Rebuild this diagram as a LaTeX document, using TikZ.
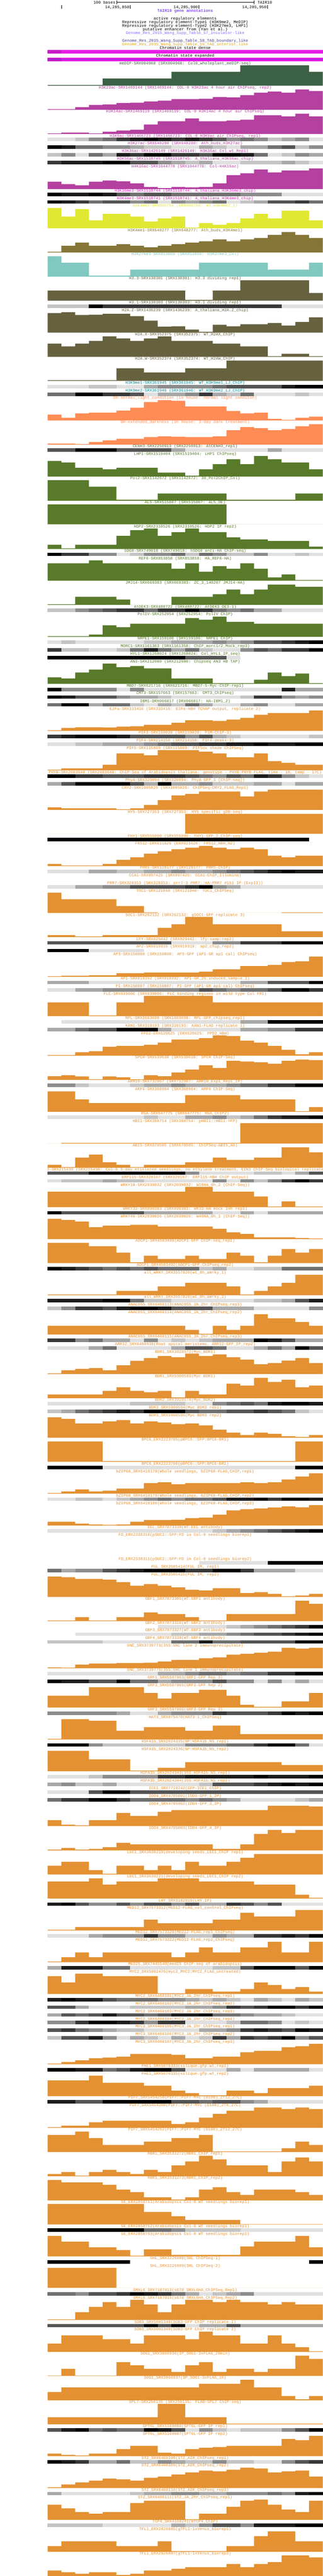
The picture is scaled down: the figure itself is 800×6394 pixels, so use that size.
\documentclass[tikz,border=0pt]{standalone}
\usepackage{fontspec}
\newfontfamily\ucsc{Liberation Mono}
\definecolor{k0}{RGB}{0,0,0}
\definecolor{k1}{RGB}{28,28,28}
\definecolor{k2}{RGB}{56,56,56}
\definecolor{k3}{RGB}{84,84,84}
\definecolor{k4}{RGB}{112,112,112}
\definecolor{k5}{RGB}{140,140,140}
\definecolor{k6}{RGB}{168,168,168}
\definecolor{k7}{RGB}{196,196,196}
\definecolor{k8}{RGB}{224,224,224}
\definecolor{kn}{RGB}{255,255,255}
\definecolor{purp}{RGB}{180,64,160}
\definecolor{mgt}{RGB}{225,30,200}
\definecolor{pk}{RGB}{200,45,165}
\definecolor{medg}{RGB}{60,96,68}
\definecolor{yel}{RGB}{224,232,50}
\definecolor{olv}{RGB}{133,117,55}
\definecolor{teal}{RGB}{128,200,192}
\definecolor{dolv}{RGB}{102,97,63}
\definecolor{tblu}{RGB}{0,140,150}
\definecolor{coral}{RGB}{255,140,85}
\definecolor{cgrn}{RGB}{90,105,50}
\definecolor{grn}{RGB}{88,122,42}
\definecolor{org}{RGB}{227,145,50}
\definecolor{chrom}{RGB}{232,28,232}
\definecolor{chromd}{RGB}{200,27,200}
\definecolor{chline}{RGB}{120,40,210}
\definecolor{tair}{RGB}{80,0,240}
\definecolor{ins}{RGB}{128,112,255}
\definecolor{tadb}{RGB}{72,61,139}
\definecolor{tadi}{RGB}{218,165,32}
\newcounter{lb}
\tikzset{lbl/.style={anchor=base,inner sep=0pt,font=\ucsc\fontsize{10}{10}\selectfont}}
\newcommand\trk[3]{\stepcounter{lb}\node[lbl,text=#2] (lab\thelb) at (459,#1+3.2) {#3};}
\newcommand\hst[3]{\fill[#1] (118,#2) \foreach \t [count=\i from 0] in {#3} { -- ({118+34.1*\i},\t) -- ({118+34.1*(\i+1)},\t) } -- (800,#2) -- cycle;}
\newcommand\dns[2]{\foreach \g [count=\i from 0] in {#2} {\fill[k\g] ({118+34.1*\i},#1) rectangle ({118.4+34.1*(\i+1)},#1+8.7);}}
\begin{document}
\begin{tikzpicture}[x=1pt,y=-1pt]
\useasboundingbox (0,0) rectangle (800,6394);
\fill[white] (0,0) rectangle (800,6394);
% header
\node[lbl,anchor=base east] (bases) at (286,9.2) {100 bases};
\draw[line width=1pt] (289,6) -- (629.5,6);
\draw[line width=1pt] (289,1.5) -- (289,10.5) (629.5,1.5) -- (629.5,10.5);
\node[lbl,anchor=base west] (asm) at (638,9.2) {TAIR10};
\draw[line width=1pt] (152.8,13.3) -- (152.8,21.7) (323,13.3) -- (323,21.7) (493,13.3) -- (493,21.7) (663,13.3) -- (663,21.7);
\node[lbl,anchor=base east] (p1) at (320.5,20.9) {14,285,850};
\node[lbl,anchor=base east] (p2) at (490.5,20.9) {14,285,900};
\node[lbl,anchor=base east] (p3) at (660.5,20.9) {14,285,950};
\trk{27}{tair}{TAIR10 gene annotations}
\trk{46}{black}{active regulatory elements}
\trk{54.7}{black}{Repressive regulatory element-Type1 (H3K9me2, MeDIP)}
\trk{63.7}{black}{Repressive regulatory element-Type2 (H3K27me3, LHP1)}
\trk{72.7}{black}{putative enhancer from (Yan et al.)}
\trk{82}{ins}{Genome\_Res\_2015\_Wang\_Supp\_Table\_S7\_insulator-like}
\trk{100.7}{tadb}{Genome\_Res\_2015\_Wang\_Supp\_Table\_S8\_TAD\_boundary\_like}
\trk{110}{tadi}{Genome\_Res\_2015\_Wang\_Supp\_Table\_S9\_TAD\_interior\_like}
\trk{119}{black}{Chromatin state dense}
\fill[chrom] (118,124) rectangle (800,132.7);
\fill[chromd] (118,124) rectangle (152.1,132.7);
\trk{138}{black}{Chromatin state expanded}
\fill[chrom] (118,143) rectangle (800,151.7);
\fill[chromd] (118,143) rectangle (152.1,151.7);
\draw[chline,line width=0.8pt] (118,147.3) -- (800,147.3);
% tracks
\trk{156.7}{medg}{meDIP-SRX004968 (SRX004968: Col0\_wholeplant\_meDIP-seq)}
\hst{medg}{212.7}{211,211,211,211,195,195,195,195,195,178.3,178.3,178.3,178.3,178.3,162,162,162,162,162,178.3}
\trk{217}{purp}{H3K23ac-SRX1469144 (SRX1469144: COL-0 H3K23ac 4 hour air ChIPseq, rep2)}
\hst{purp}{272.7}{271,271,266,260.5,259,255.7,255,252,250,246,246,245,241,242,236,230,227,230,222,226}
\trk{276.7}{purp}{H3K14ac-SRX1469119 (SRX1469119: COL-0 H3K14ac 4 hour air ChIPseq)}
\hst{purp}{332.7}{331,329,329,331,327,324,322,309,301,301,294,301,301,299,297,286,286,289,282,289}
\trk{337}{purp}{H3K9ac-SRX1466723 (SRX1466723: COL-0 H3K9ac air ChIPseq, rep1)}
\dns{342}{8,8,7,5,4,2,1,0,1,2,1,2,3,5,4,5,7,6,5,8}
\trk{356}{purp}{H3K27ac-SRX648280 (SRX648280: Ath\_buds\_H3K27ac)}
\dns{360.7}{0,1,4,4,5,5,6,7,7,8,8,6,7,8,6,6,4,3,7,5}
\trk{375}{purp}{H3K36ac-SRX1426149 (SRX1426149: H3K36ac\_Col\_wt\_Rep1)}
\dns{380}{7,5,8,4,6,1,2,0,0,2,2,3,0,0,1,4,8,7,5,6}
\trk{394}{purp}{H3K56ac-SRX1518745 (SRX1518745: A\_thaliana\_H3K56ac\_chip)}
\dns{399}{2,1,1,1,0,0,3,3,5,6,7,6,8,8,7,7,7,6,7,8}
\trk{413}{purp}{H4K16ac-SRX1044778 (SRX1044778: Col-H4K16ac)}
\hst{purp}{469}{451,457,460,451,448,450,455,464,467,464,465,464,455,435,430,421,428,423,423,418}
\trk{473}{mgt}{H3K36me3-SRX1518744 (SRX1518744: A\_thaliana\_H3K36me3\_chip)}
\dns{478}{0,1,1,0,1,3,4,3,3,4,4,4,4,4,5,5,5,8,8,8}
\trk{492}{pk}{H3K4me3-SRX1518741 (SRX1518741: A\_thaliana\_H3K4me3\_chip)}
\dns{497}{0,1,2,4,3,3,5,4,8,5,6,5,4,8,7,6,3,3,2,4}
\trk{510.7}{yel}{H3K4me2-DRX066756 (DRX066756: WT\_H3K4me2\_1)}
\hst{yel}{566.7}{516,537.7,519,546.7,531,531,537.7,550,542,537.7,564.7,554,558,554,542,531,542,523,523,546.7}
\trk{571}{olv}{H3K4me1-SRX648277 (SRX648277: Ath\_buds\_H3K4me1)}
\hst{olv}{626.7}{625,610,602,610,610,606,610,614,610,606,602,599,594,599,594,591,583,576,583,591}
\trk{631}{teal}{H3K27me3-SRX853860 (SRX853860: H3K27me3\_Col)}
\hst{teal}{686.4}{636,652,652,684.4,684.4,684.4,669.3,669.3,669.3,669.3,669.3,652,652,652,652,652,669.3,669.3,669.3,652}
\trk{690.9}{dolv}{H3.3-SRX130301 (SRX130301: H3.3 dividing rep1)}
\hst{dolv}{746.4}{721.1,721.1,721.1,721.1,721.1,721.1,721.1,721.1,721.1,721.1,744.4,744.4,721.1,721.1,695.8,695.8,695.8,695.8,695.8,727.2}
\trk{750.9}{dolv}{H3.1-SRX130303 (SRX130303: H3.1 dividing rep1)}
\dns{755.8}{7,7,7,0,2,2,2,2,2,2,2,2,2,2,2,2,2,8,8,8}
\trk{769.7}{dolv}{H2A.Z-SRX1436239 (SRX1436239: A\_thaliana\_H2A.Z\_chip)}
\hst{dolv}{825.6}{777,775,781.9,781.1,779,779,784.8,795.8,810.9,810.1,817.9,823.6,806,810.1,804.8,804.8,801.9,808,799,788}
\trk{829.7}{dolv}{H2A.X-SRX352375 (SRX352375: WT\_H2AX\_ChIP)}
\hst{dolv}{885.6}{853,859.9,853,846,835,839.9,846,839.9,835,846,846,846,853,853,859.9,859.9,884,877.9,877.9,884}
\trk{889.7}{dolv}{H2A.W-SRX352374 (SRX352374: WT\_H2AW\_ChIP)}
\hst{dolv}{945.6}{944,944,944,944,944,914.2,914.2,924.8,924.8,924.8,914.2,914.2,914.2,895,895,895,895,895,895,895}
\trk{949.7}{tblu}{H3K9me1-SRX361945 (SRX361945: WT\_H3K9me1\_LJ\_ChIP)}
\dns{955}{8,8,8,7,7,8,8,6,5,5,5,5,4,3,3,3,3,1,0,0}
\trk{968.9}{tblu}{H3K9me2-SRX361946 (SRX361946: WT\_H3K9me2\_LJ\_ChIP)}
\dns{974.2}{4,4,0,0,2,2,3,8,6,6,5,2,6,7,4,8,8,8,7,8}
\trk{987.7}{coral}{DH-normal\_light\_condition (in house: normal light conditon)}
\hst{coral}{1043.6}{1028.9,1037,1026,1024,1024,1019,1012,997.9,993,995,1008.9,1008.9,1008.9,1019.9,1026,1024,1039.9,1041.9,1037,1034}
\trk{1047.7}{coral}{DH-extended\_darkness (in house: 3-day dark treatment)}
\hst{coral}{1103.6}{1101.1,1101.1,1102,1097,1093,1088.9,1088.9,1084.8,1083,1084,1084.8,1084.8,1083,1068,1059.9,1062.7,1068,1064.8,1057.9,1053}
\trk{1107.7}{cgrn}{CENH3-SRX2250913 (SRX2250913: AtCENH3\_rep1)}
\dns{1113}{3,3,0,0,0,3,3,3,3,6,8,8,8,8,8,8,6,8,8,8}
\trk{1126.8}{grn}{LHP1-SRX1519404 (SRX1519404: LHP1 ChIPseq)}
\hst{grn}{1182.8}{1144,1148,1161,1161,1164.8,1161,1161,1161,1173,1173,1180.7,1164.8,1152,1140,1152,1132,1140,1148,1148,1164.8}
\trk{1186.8}{grn}{Pol2-SRX1142672 (SRX1142672: 30\_Pol2ChIP\_Col)}
\hst{grn}{1242.7}{1192,1192,1192,1208,1208,1240.7,1240.7,1240.7,1224.8,1224.8,1224.8,1224.8,1224.8,1240.7,1240.7,1240.7,1240.7,1240.7,1224.8,1224.8}
\trk{1246.8}{grn}{AL5-SRX515067 (SRX515067: AL5\_OE)}
\hst{grn}{1301.4}{1252,1252,1252,1252,1252,1252,1252,1252,1252,1252,1252,1252,1252,1301.4,1301.4,1301.4,1301.4,1301.4,1301.4,1301.4}
\trk{1306.7}{grn}{HDP2-SRX2310526 (SRX2310526: HDP2 IP rep2)}
\hst{grn}{1362.7}{1352,1361,1352,1352,1352,1330,1316.1,1312,1330,1321,1312,1321,1321,1334,1339,1339,1343,1343,1343,1357}
\trk{1366.7}{grn}{SDG8-SRX749018 (SRX749018: hSDG8 anti-HA ChIP-seq)}
\dns{1371.6}{0,2,2,5,5,8,7,5,5,4,7,4,5,7,7,5,8,8,7,8}
\trk{1385.9}{grn}{REF6-SRX853858 (SRX853858: HA\_REF6-HA)}
\hst{grn}{1441.4}{1398.2,1398.2,1398.2,1390.8,1398.2,1398.2,1398.2,1398.2,1398.2,1411.6,1398.2,1419,1405.1,1411.6,1398.2,1411.6,1432.9,1425.9,1439.8,1439.8}
\trk{1445.9}{grn}{JMJ14-SRX669383 (SRX669383: ZC\_3\_140207 JMJ14-HA)}
\hst{grn}{1501.4}{1499.8,1499.8,1481.4,1481.4,1481.4,1488,1501.4,1501.4,1501.4,1481.4,1481.4,1481.4,1474.9,1463.5,1474.9,1463.5,1450.8,1450.8,1456.5,1456.5}
\trk{1505.9}{grn}{AtDEK3-SRX488722 (SRX488722: AtDEK3 OE3-1)}
\dns{1510.8}{7,7,5,4,3,2,2,4,2,2,0,2,4,5,4,6,6,8,8,8}
\trk{1524.7}{grn}{PolIV-SRX252954 (SRX252954: PolIV ChIP)}
\hst{grn}{1580.6}{1579,1579,1579,1574.9,1552,1556.9,1548,1548,1548,1548,1534,1538.2,1530.4,1543.5,1543.5,1548,1548,1548,1548,1548}
\trk{1584.7}{grn}{NRPE1-SRX159106 (SRX159106: NRPE1 ChIP)}
\dns{1590}{8,7,8,8,8,8,8,7,7,6,6,6,5,6,5,3,3,2,1,0}
\trk{1603.9}{grn}{MORC1-SRX1161363 (SRX1161358: ChIP\_morc1/2\_Mock\_rep3)}
\dns{1609.2}{2,7,7,8,8,7,4,1,4,6,4,7,8,8,5,3,4,2,2,0}
\trk{1622.7}{grn}{HYL1-SRX1268024 (SRX1268024: Col\_HYL1\_IP\_seq)}
\dns{1628}{0,0,0,0,0,0,0,0,0,0,3,3,3,8,n,n,n,n,n,n}
\trk{1641.8}{grn}{AN3-SRX212080 (SRX212080: Chipseq AN3 HB TAP)}
\hst{grn}{1697.3}{1681,1683.9,1669.2,1661.8,1647.1,1656.1,1652.9,1659,1659,1683.9,1683.9,1683.9,1695.7,1695.7,1695.7,1687.1,1669.2,1678.2,1672,1695.7}
\trk{1701.8}{grn}{MBD7-SRX621716 (SRX621716: MBD7-5-Myc-ChIP-rep1)}
\dns{1707.1}{0,5,5,5,5,8,5,8,8,8,8,8,8,8,8,8,8,1,6,6}
\trk{1720.6}{grn}{CMT3-SRX157663 (SRX157663: CMT3\_ChIPseq)}
\dns{1725.9}{0,1,3,3,3,5,6,6,7,8,8,8,8,8,7,2,2,5,6,5}
\trk{1739.8}{grn}{IBM1-DRX066817 (DRX066817: HA-IBM1\_2)}
\dns{1745.1}{4,0,0,6,4,4,7,8,6,7,4,6,8,8,6,5,8,8,6,6}
\trk{1759}{org}{E2Fa-SRX333416 (SRX333416: E2Fa-HBH TChAP output, replicate 2)}
\hst{org}{1814.1}{1812.4,1806.7,1805.1,1805.1,1805.9,1803.5,1802.7,1799,1799,1794,1788,1788,1789.6,1785.9,1781.8,1774.1,1770,1770,1770,1763.5}
\trk{1818.6}{org}{PIF3-SRX159028 (SRX159028: P3M-ChIP-3)}
\dns{1823.9}{2,1,0,0,0,1,3,3,3,3,5,3,6,7,8,8,8,8,8,7}
\trk{1837.8}{org}{PIF4-SRX214150 (SRX214150: PIF4-peaks-3)}
\dns{1843}{8,8,7,7,6,6,6,5,4,3,3,2,2,1,1,0,1,1,0,0}
\trk{1856.5}{org}{PIF5-SRX115869 (SRX115869: PIF5ox shade ChIPSeq)}
\hst{org}{1912}{1910.4,1907.1,1907.1,1907.1,1898.2,1870,1870,1874.9,1862.2,1862.2,1862.2,1865.9,1870,1879.8,1879.8,1870,1889.2,1893.3,1898.2,1898.2}
\trk{1916.5}{org}{PHYB-SRX2083648 (SRX2083648: ChIP-Seq of Arabidopsis thaliana: genotype - PHYB:PHYB-FLAG, time - 10, temp - 17C)}
\dns{1921.8}{0,0,2,2,3,3,3,2,2,2,3,4,5,3,4,1,2,5,7,8}
\trk{1935.8}{org}{PhyA-SRX320094 (SRX320094: PhyA-GFP\_1 [ChIP-seq])}
\dns{1941.1}{6,3,0,0,0,0,3,6,0,6,6,5,7,7,7,6,6,8,6,6}
\trk{1955}{org}{CRY2-SRX1005826 (SRX1005826: ChIPSeq-CRY2\_FLAG\_Rep1)}
\hst{org}{2010.5}{2004,2006.4,2006.4,2006.4,2006.4,2008.9,2006.4,1997.9,1986,1974.2,1970.9,1964.8,1964.8,1964.8,1977,1964.8,1959.9,1959.9,1959.9,1959.9}
\trk{2015}{org}{HY5-SRX727353 (SRX727353: HY5 specific gDB-seq)}
\hst{org}{2069.7}{2069.7,2069.7,2069.7,2069.7,2069.7,2069.7,2069.7,2069.7,2069.7,2069.7,2019.9,2019.9,2019.9,2019.9,2019.9,2019.9,2019.9,2019.9,2019.9,2019.9}
\trk{2075}{org}{FHY1-SRX555090 (SRX555090: FHY1-GFP\_2\_ChIP-seq)}
\dns{2079.9}{0,0,0,0,0,0,0,0,0,0,0,0,0,0,0,0,0,0,0,n}
\trk{2093.8}{org}{FRS12-ERX611626 (ERX611626: FRS12\_HBH\_N2)}
\hst{org}{2149.7}{2144.4,2148.5,2148.5,2148.5,2144.4,2134.2,2128,2119,2113,2108,2104,2099.5,2104,2108,2104,2108,2124,2128,2124,2124}
\trk{2153.8}{org}{PRR5-SRX128177 (SRX128177: PRR5-ChIP)}
\dns{2159}{8,8,8,6,6,7,7,6,6,5,6,6,5,4,3,2,1,0,1,1}
\trk{2173}{org}{CCA1-SRX997425 (SRX997425: CCA1-ChIP\_Illumina)}
\trk{2191.7}{org}{PRR7-SRX328353 (SRX328353: prr7-3 PRR7::HA-PRR7 \#151 IP (ExpII))}
\dns{2197}{8,8,6,6,5,5,3,3,3,3,2,0,5,6,8,8,8,8,8,8}
\trk{2210.9}{org}{TOC1-SRX121040 (SRX121040: TOC1\_ChIPSeq)}
\hst{org}{2266}{2215.8,2232.1,2232.1,2232.1,2232.1,2248.9,2248.9,2264.8,2266,2266,2266,2266,2266,2266,2266,2266,2266,2264.8,2264.8,2264.8}
\trk{2270.9}{org}{SOC1-SRX262132 (SRX262132: gSOC1-GFP replicate 3)}
\hst{org}{2326}{2321.1,2321.1,2324.4,2324.4,2321.1,2321.1,2321.1,2321.1,2303.2,2294.2,2275.8,2275.8,2294.2,2294.2,2294.2,2294.2,2294.2,2311.7,2311.7,2311.7}
\trk{2330.9}{org}{LFY-SRX029442 (SRX029442: lfy-samp-rep2)}
\dns{2335.8}{3,3,3,3,3,3,3,3,3,8,8,8,5,5,2,2,2,0,0,0}
\trk{2349.7}{org}{AP2-SRX019319 (SRX019319: ap2\_chip\_rep2)}
\dns{2355}{0,0,0,8,8,8,8,n,n,n,n,n,n,n,n,n,n,n,n,n}
\trk{2368.9}{org}{AP3-SRX150808 (SRX150808: AP3-GFP (AP1-GR ap1 cal) ChIPseq)}
\hst{org}{2424.4}{2423.2,2422,2422,2421,2421,2415.8,2415.8,2413.8,2413.8,2413.8,2413.8,2411.7,2406,2406,2397.9,2397.9,2395,2388,2386,2374.2}
\trk{2428.9}{org}{AP1-SRX018392 (SRX018392: AP1-GR\_2h\_induced\_sample\_1)}
\dns{2434.2}{6,6,6,8,8,8,8,8,8,8,8,8,8,8,6,6,3,3,3,0}
\trk{2447.7}{org}{PI-SRX150807 (SRX150807: PI-GFP (AP1-GR ap1 cal) ChIPseq)}
\dns{2453}{8,8,6,6,5,5,5,5,5,5,5,3,4,5,4,4,3,0,0,2}
\trk{2466.8}{org}{FLC-SRX039006 (SRX039006: FLC binding regions in wild type Col FRI)}
\hst{org}{2522.3}{2488,2488,2488,2520.7,2520.7,2488,2488,2472.1,2472.1,2472.1,2472.1,2472.1,2488,2488,2488,2488,2488,2488,2488,2488}
\trk{2526.8}{org}{RPL-SRX1603698 (SRX1603698: RPL-GFP\_chipseq\_rep1)}
\dns{2531.7}{n,8,8,8,8,8,8,8,8,8,8,8,8,8,6,6,0,0,0,0}
\trk{2545.6}{org}{KAN1-SRX310193 (SRX310193: KAN1-FLAG replicate 1)}
\dns{2551}{6,6,4,3,3,0,0,0,6,8,8,8,8,8,6,6,5,5,2,2}
\trk{2564.6}{org}{PPD2-ERX620625 (ERX620625: PPD2\_HBH)}
\hst{org}{2620.5}{2618.9,2618.9,2611.9,2609.1,2598.1,2596,2596,2593.2,2587.9,2580.1,2580.1,2576.8,2569.9,2571.9,2583,2587.9,2596,2605.8,2616.8,2611.9}
\trk{2624.6}{org}{SPCH-SRX539638 (SRX539638: SPCH ChIP-Seq)}
\hst{org}{2680.5}{2671.1,2669.1,2671.9,2678.9,2671.9,2674,2678.9,2669.1,2671.1,2662.1,2654.8,2644.2,2651.1,2633.2,2634.8,2636.8,2640.1,2633.2,2629.9,2631.1}
\trk{2684.6}{org}{ARR10-SRX732967 (SRX732967: ARR10\_Exp1\_Rep1\_IP)}
\dns{2689.9}{5,5,7,8,8,8,7,6,6,5,6,6,6,5,4,4,2,2,0,0}
\trk{2703.8}{org}{ARF6-SRX368984 (SRX368984: ARF6 ChIP-Seq)}
\hst{org}{2759.7}{2709.1,2709.1,2729.1,2738.1,2738.1,2738.1,2738.1,2738.1,2738.1,2738.1,2718.1,2718.1,2718.1,2718.1,2729.1,2729.1,2729.1,2729.1,2758.1,2747.9}
\trk{2763.8}{org}{RGA-SRX647775 (SRX647775: RGA\_ChIP2)}
\dns{2769.1}{8,8,8,8,8,8,8,7,8,8,6,6,5,7,6,4,2,1,1,0}
\trk{2783}{org}{HBI1-SRX388754 (SRX388754: pHBI1::HBI1-YFP)}
\hst{org}{2838.5}{2838.5,2836.8,2836.8,2836.8,2836.8,2836.8,2836.8,2836.8,2836.8,2836.8,2836.8,2836.8,2836.8,2836.8,2787.9,2787.9,2787.9,2787.9,2787.9,2787.9}
\trk{2843}{org}{ABI5-SRX670505 (SRX670505: ChIPSeq-ABI5\_Ab)}
\hst{org}{2898.5}{2891.1,2896.8,2873.2,2865.8,2885,2891.1,2896.8,2891.1,2891.1,2891.1,2885,2885,2873.2,2878.9,2878.9,2873.2,2873.2,2847.9,2847.9,2860.1}
\begin{scope}
\clip (118,2894) rectangle (800,2906);
\trk{2902.6}{org}{EIN3-SRX215430 (SRX215430: Col-0 3-day etiolated seedlings, no ethylene treatment, EIN3 ChIP-Seq biological replicate 1)}
\end{scope}
\dns{2907.4}{3,3,3,0,0,0,0,0,0,0,5,8,8,8,8,7,7,8,6,3}
\trk{2921.7}{org}{ERF115-SRX320167 (SRX320167: ERF115-HBH ChIP output)}
\dns{2926.6}{8,7,7,7,6,7,7,8,8,8,8,8,5,8,5,7,5,2,0,2}
\trk{2940.9}{org}{WRKY18-SRX2039032 (SRX2039032: W18HA\_0h\_2 (ChIP-Seq))}
\hst{org}{2996.4}{2958,2958,2958,2958,2958,2958,2958,2958,2958,2958,2945.8,2945.8,2958,2958,2958,2969.9,2994.8,2982.1,2994.8,2994.8}
\trk{3000.5}{org}{WRKY33-SRX890383 (SRX890383: WK33-HA mock 14h rep1)}
\dns{3005.8}{0,3,3,3,3,3,3,6,6,6,6,6,8,8,6,8,6,6,6,6}
\trk{3019.7}{org}{WRKY40-SRX2039026 (SRX2039026: W40HA\_0h\_1 (ChIP-Seq))}
\hst{org}{3075.6}{3025,3027.9,3032,3045.8,3042.1,3042.1,3040.1,3040.1,3044.2,3044.2,3044.2,3044.2,3049.9,3058.9,3063,3071.1,3071.1,3071.1,3073.2,3074}
\trk{3079.7}{org}{ADCP1-SRX4503490(ADCP1-GFP ChIP-seq\_rep1)}
\hst{org}{3135.2}{3085,3085,3085,3093.2,3093.2,3109.1,3133.2,3116.8,3125,3125,3116.8,3125,3125,3109.1,3116.8,3133.2,3116.8,3100.1,3109.1,3100.1}
\trk{3139.7}{org}{ADCP1\_SRX4503492(ADCP1-GFP\_ChIPseq\_rep2)}
\dns{3145}{0,1,2,3,4,3,4,3,4,4,4,7,6,8,8,7,7,4,4,4}
\trk{3158.9}{org}{all\_WRKY\_SRX3557820(wt\_0h\_aWrky\_1)}
\hst{org}{3214.6}{3213,3213,3213,3213,3213,3204,3204,3204,3193,3193,3184,3184,3184,3193,3213,3204,3193,3184,3164.2,3164.2}
\trk{3218.7}{org}{all\_WRKY\_SRX3557828(wt\_0h\_aWrky\_2)}
\dns{3224}{1,1,1,1,0,0,4,7,7,8,8,8,8,8,8,7,7,6,3,1}
\trk{3237.9}{org}{ANAC055\_SRX6460113(ANAC055\_JA\_2hr\_ChIPseq\_rep1)}
\dns{3243.2}{7,5,2,2,3,1,0,0,1,3,3,3,6,6,6,8,8,8,8,5}
\trk{3256.6}{org}{ANAC055\_SRX6460114(ANAC055\_JA\_2hr\_ChIPseq\_rep2)}
\hst{org}{3312.6}{3290.9,3290.9,3290.9,3290.9,3290.9,3290.9,3290.9,3290.9,3290.9,3290.9,3301.1,3310.5,3290.9,3301.1,3290.9,3261.9,3272.1,3272.1,3281.1,3290.9}
\trk{3316.6}{org}{ANAC055\_SRX6460115(ANAC055\_JA\_2hr\_ChIPseq\_rep3)}
\dns{3322}{2,2,5,4,6,6,8,5,8,7,8,7,6,6,6,0,1,3,6,6}
\trk{3335.8}{org}{ARR12\_SRX6490939(Root apical meristems, ARR12-GFP\_IP\_rep2)}
\dns{3341.1}{8,8,8,6,4,8,8,8,8,6,3,3,4,8,8,6,4,6,0,3}
\trk{3355}{org}{BDR1\_SRX3928572(Myc\_BDR1)}
\hst{org}{3410.5}{3408.9,3401.1,3397.9,3395.8,3401.1,3388.9,3377.9,3370.9,3366,3368.9,3359.9,3366,3361.9,3368.9,3375,3386,3383.2,3377,3370.9,3383.2}
\trk{3415}{org}{BDR1\_SRX5900593(Myc BDR1)}
\hst{org}{3470.5}{3461.1,3461.1,3461.1,3461.1,3452.1,3443.2,3452.1,3455.8,3452.1,3468.5,3452.1,3461.1,3461.1,3434.2,3439.1,3419.9,3430.1,3424.8,3443.2,3439.1}
\trk{3474.6}{org}{BDR2\_SRX3928574(Myc\_BDR2)}
\dns{3479.9}{8,8,8,8,8,8,7,7,7,7,8,8,5,4,3,4,1,0,0,1}
\trk{3493.8}{org}{BDR3\_SRX5900594(Myc BDR3 rep1)}
\dns{3499.1}{7,6,4,3,2,1,2,0,0,0,3,4,4,3,3,2,3,4,7,8}
\trk{3513}{org}{BDR3\_SRX5900595(Myc BDR3 rep2)}
\hst{org}{3568.5}{3517.9,3521.9,3533,3533,3528.1,3524.8,3533,3528.1,3530.9,3535,3533,3537.9,3548.9,3555.8,3561.9,3555.8,3559.1,3564.8,3566.8,3561.9}
\trk{3572.6}{org}{BPC6\_ERX2223705(pBPC6::GFP:BPC6-BR1)}
\hst{org}{3628.5}{3577.9,3577.9,3577.9,3577.9,3626.4,3626.4,3626.4,3626.4,3626.4,3626.4,3626.4,3626.4,3626.4,3626.4,3626.4,3626.4,3626.4,3626.4,3577.9,3577.9}
\trk{3632.6}{org}{BPC6\_ERX2223706(pBPC6::GFP:BPC6-BR1)}
\dns{3637.9}{0,0,0,0,8,8,8,8,8,8,8,8,8,8,8,8,8,8,0,0}
\trk{3651.7}{org}{bZIP68\_SRX6410178(Whole seedlings, bZIP68-FLAG,CHIP,rep1)}
\hst{org}{3707.2}{3705.6,3702,3697,3702,3699.9,3695,3695,3681.1,3679.1,3684,3681.1,3681.1,3681.1,3681.1,3679.1,3681.1,3679.1,3672.1,3664.8,3657}
\trk{3711.7}{org}{bZIP68\_SRX6410179(Whole seedlings, bZIP68-FLAG,CHIP,rep2)}
\dns{3717}{8,8,7,7,8,7,6,5,4,5,4,4,3,1,1,0,2,0,0,1}
\trk{3730.9}{org}{bZIP68\_SRX6410180(Whole seedlings, bZIP68-FLAG,CHIP,rep3)}
\hst{org}{3786.4}{3777,3777,3781.9,3784,3784.8,3784,3777,3773,3773,3772.1,3768.1,3766.8,3759.9,3748.9,3746,3744,3741.9,3739.1,3741.1,3735.8}
\trk{3790.9}{org}{EEL\_SRX7873339(WT:EEL antibody)}
\dns{3795.8}{8,8,8,8,8,8,8,8,8,8,8,8,7,6,5,4,3,2,1,0}
\trk{3809.8}{org}{FD\_ERX2338310(pSUC2::GFP:FD in Col-0 seedlings biorep1)}
\trk{3869.9}{org}{FD\_ERX2338311(pSUC2::GFP:FD in Col-0 seedlings biorep2)}
\dns{3874.8}{n,n,n,n,n,n,n,n,n,n,n,8,8,8,8,8,0,0,0,0}
\trk{3888.7}{org}{FUL\_SRX3505414(FUL IM, rep1)}
\dns{3894}{4,6,5,5,3,2,1,0,0,0,2,2,0,0,2,6,6,6,8,8}
\trk{3907.9}{org}{FUL\_SRX3505415(FUL IM, rep2)}
\hst{org}{3963.8}{3913.2,3914.8,3918.9,3918.9,3920.9,3927,3936,3931.9,3936,3940.1,3945.8,3947.9,3942.1,3942.1,3954,3951.9,3956,3962.1,3960.1,3956}
\trk{3967.9}{org}{GBF1\_SRX7873305(WT:GBF1 antibody)}
\hst{org}{4023.8}{4022.1,4022.1,4014,4022.1,4022.1,4014,4014,4002.1,4006.2,4006.2,4014,4022.1,4022.1,4006.2,4006.2,4006.2,4006.2,4006.2,3973.2,3980.9}
\trk{4027.9}{org}{GBF2\_SRX7873316(WT:GBF2 antibody)}
\dns{4033.2}{n,n,n,n,n,n,n,n,8,8,8,8,8,7,6,5,4,3,2,0}
\trk{4046.6}{org}{GBF3\_SRX7873327(WT:GBF3 antibody)}
\dns{4052}{n,n,8,8,8,8,8,8,8,7,7,6,6,5,4,3,3,2,1,0}
\trk{4065.8}{org}{GBF4\_SRX7873338(WT:GBF4 antibody)}
\dns{4071.1}{7,7,7,7,8,8,8,8,8,4,4,1,4,4,3,3,3,3,0,0}
\trk{4085}{org}{GNC\_SRX3739773(35S:GNC line 2 immunoprecipitate)}
\hst{org}{4140.5}{4138.5,4139.3,4132,4129.1,4129.1,4127.9,4127.9,4127,4124.2,4120.1,4120.1,4116,4114,4107,4105,4102.1,4100.1,4089.9,4091.9,4089.9}
\trk{4144.6}{org}{GNC\_SRX3739775(35S:GNC line 1 immunoprecipitate)}
\dns{4149.9}{8,8,8,8,8,8,8,8,6,6,5,4,4,5,4,4,2,2,0,0}
\trk{4163.8}{org}{GRF1\_SRX5507863(GRF1-GFP Rep 3)}
\dns{4169.1}{0,1,1,3,3,0,4,4,6,5,5,5,3,5,5,8,5,8,6,8}
\trk{4183}{org}{GRF3\_SRX5507865(GRF3-GFP Rep 2)}
\hst{org}{4238.5}{4209.1,4209.1,4209.1,4187.9,4187.9,4187.9,4187.9,4202.1,4216,4202.1,4202.1,4194.4,4194.4,4209.1,4231.5,4236.4,4236.4,4223,4223,4202.1}
\trk{4242.6}{org}{GRF3\_SRX5507866(GRF3-GFP Rep 3)}
\dns{4247.9}{5,5,5,5,5,6,8,8,6,5,5,5,2,3,3,3,2,0,1,0}
\trk{4261.7}{org}{HAT3\_SRX875470(HAT3-1\_ChIPSeq)}
\hst{org}{4317.7}{4316,4267,4267,4271.1,4271.1,4296,4296,4287,4287,4287,4296,4296,4283,4283,4304.2,4304.2,4304.2,4304.2,4304.2,4304.2}
\trk{4321.7}{org}{HSFA1b\_SRX2024335(NP:HSFA1b\_NS\_rep1)}
\dns{4327}{0,0,0,5,7,7,7,7,7,7,5,5,5,4,4,2,0,0,4,8}
\trk{4340.9}{org}{HSFA1b\_SRX2024336(NP:HSFA1b\_NS\_rep2)}
\hst{org}{4396.4}{4345.8,4345.8,4345.8,4367,4367,4367,4394.8,4394.8,4387.9,4387.9,4374,4374,4374,4374,4374,4374,4374,4380.9,4380.9,4380.9}
\trk{4400.9}{org}{HSFA1b\_SRX2024343(35S:HSFA1b\_NS\_rep1)}
\dns{4405.8}{8,8,8,7,5,5,5,5,2,2,1,1,1,1,1,0,1,1,1,0}
\trk{4419.7}{org}{HSFA1b\_SRX2024344(35S:HSFA1b\_NS\_rep2)}
\dns{4425}{6,5,7,7,6,8,8,8,8,8,8,7,3,3,3,2,1,0,1,0}
\trk{4438.9}{org}{ICE1\_SRX7719242(GFP-ICE1\_ChIP)}
\dns{4443.9}{8,8,8,3,0,0,3,3,3,3,3,3,3,3,3,3,3,3,3,3}
\trk{4458}{org}{IDD4\_SRX4705001(IDD4-GFP\_1\_IP)}
\dns{4463}{4,2,2,0,0,2,4,4,4,4,5,4,5,6,8,8,8,8,7,6}
\trk{4476.7}{org}{IDD4\_SRX4705002(IDD4-GFP\_3\_IP)}
\hst{org}{4532.5}{4517.9,4529.1,4530.8,4517.9,4517.9,4500,4507.1,4507.1,4497.1,4493,4493,4493,4493,4493,4493,4493,4482.2,4482.2,4482.2,4483.8}
\trk{4536.6}{org}{IDD4\_SRX4705003(IDD4-GFP\_4\_IP)}
\hst{org}{4592.8}{4591.1,4586.9,4591.1,4589,4584.9,4574,4577.8,4577.8,4577.8,4577.8,4577.8,4577.8,4589,4589,4577.8,4552,4542,4549.9,4542,4542}
\trk{4596.9}{org}{LEC1\_SRX3638219(developing seeds\_LEC1\_ChIP rep1)}
\hst{org}{4652.6}{4631,4621,4621,4641.8,4651,4631,4631,4641.8,4631,4641.8,4621,4631,4631,4621,4611,4601.9,4601.9,4601.9,4601.9,4601.9}
\trk{4656.8}{org}{LEC1\_SRX3638221(developing seeds\_LEC1\_ChIP rep2)}
\hst{org}{4712.5}{4670.1,4670.1,4670.1,4662.2,4678,4670.1,4670.1,4670.1,4662.2,4662.2,4662.2,4670.1,4670.1,4670.1,4670.1,4678,4678,4678,4703,4710.4}
\trk{4717.1}{org}{LHY\_SRX3182010(LHY\_IP)}
\dns{4722}{1,0,3,5,5,3,5,3,3,5,3,6,6,2,3,5,3,8,8,8}
\trk{4735.8}{org}{MED12\_SRX7573312(MED12-FLAG\_col\_control\_ChIPseq)}
\hst{org}{4791.5}{4789.9,4789.9,4783.2,4783.2,4783.2,4783.2,4783.2,4764.9,4774,4774,4774,4774,4764.9,4764.9,4747.8,4757,4757,4757,4740.8,4740.8}
\trk{4795.7}{org}{MED12\_SRX7573320(MED12-FLAG\_rep1\_ChIPseq)}
\dns{4801.1}{8,8,8,6,5,5,5,2,5,5,7,7,5,6,6,2,2,1,2,0}
\trk{4814.8}{org}{MED12\_SRX7573322(MED12-FLAG\_rep2\_ChIPseq)}
\hst{org}{4870.5}{4868.8,4858,4846,4858,4846,4846,4846,4846,4846,4858,4846,4833.5,4846,4846,4833.5,4833.5,4819.8,4846,4846,4819.8}
\trk{4874.7}{org}{MED25\_SRX7445540(med25 ChIP-seq of arabidopsis)}
\dns{4880}{6,1,1,1,4,4,8,8,8,8,8,8,7,7,3,0,0,0,3,0}
\trk{4893.8}{org}{MYC2\_SRX5982476(myc2\_MYC2:MYC2\_FLAG\_untreated)}
\hst{org}{4949.5}{4905,4920.8,4898.8,4898.8,4905,4905,4905,4905,4947.9,4947.9,4937,4937,4943.3,4943.3,4937,4920.8,4927.1,4937,4932,4943.3}
\trk{4954.1}{org}{MYC2\_SRX6460101(MYC2\_JA\_2hr\_ChIPseq\_rep1)}
\dns{4959.1}{1,0,1,1,3,4,4,4,5,5,6,7,6,7,8,6,7,8,6,7}
\trk{4972.8}{org}{MYC2\_SRX6460102(MYC2\_JA\_2hr\_ChIPseq\_rep2)}
\dns{4977.8}{3,3,6,8,8,8,7,7,7,7,6,6,5,2,3,2,0,0,2,0}
\trk{4992}{org}{MYC2\_SRX6460103(MYC2\_JA\_2hr\_ChIPseq\_rep3)}
\dns{4996.9}{6,3,4,3,1,3,3,4,3,1,1,0,4,4,5,6,6,7,8,8}
\trk{5011}{org}{MYC2\_SRX6460104(MYC2\_JA\_2hr\_ChIPseq\_rep4)}
\dns{5016}{5,5,2,0,0,1,2,5,2,2,8,8,8,7,4,4,5,8,7,8}
\trk{5029.8}{org}{MYC3\_SRX6460105(MYC3\_JA\_2hr\_ChIPseq\_rep1)}
\dns{5035.2}{3,2,4,5,6,7,7,8,8,8,8,6,6,5,2,1,2,3,0,1}
\trk{5048.9}{org}{MYC3\_SRX6460106(MYC3\_JA\_2hr\_ChIPseq\_rep2)}
\dns{5054.3}{7,3,3,1,5,8,6,7,8,6,8,7,2,6,2,3,2,0,5,3}
\trk{5068}{org}{MYC3\_SRX6460107(MYC3\_JA\_2hr\_ChIPseq\_rep3)}
\hst{org}{5123.5}{5121.9,5118.1,5114,5108.9,5106.9,5105.2,5098.1,5098.1,5098.1,5100.2,5108.9,5108.9,5105.2,5105.2,5093.9,5090.2,5090.2,5081.3,5078.8,5073}
\trk{5127.7}{org}{PHE1\_SRX5676333(silique.gfp.wt\_rep1)}
\dns{5133.1}{0,0,1,1,4,3,1,0,0,3,8,8,8,6,8,6,6,6,6,8}
\trk{5146.9}{org}{PHE1\_SRX5676335(silique.gfp.wt\_rep2)}
\hst{org}{5202.8}{5164,5164,5164,5151.9,5169.8,5169.8,5169.8,5176.9,5176.9,5189,5195.3,5201.1,5201.1,5189,5189,5195.3,5183.2,5183.2,5183.2,5176.9}
\trk{5206.5}{org}{PIF7\_SRX5454258(PIF7::PIF7-MYC (D108)\_ZT12\_27C)}
\dns{5212}{1,1,3,3,0,0,0,0,0,3,3,4,3,3,5,6,8,8,8,8}
\trk{5225.7}{org}{PIF7\_SRX5454260(PIF7::PIF7-MYC (D108)\_ZT8\_27C)}
\hst{org}{5281.6}{5280,5276.2,5276.2,5267.8,5264.1,5264.1,5264.1,5264.1,5264.1,5272,5267.8,5256.2,5247,5239.1,5239.1,5231.1,5231.1,5234.9,5231.1,5234.9}
\trk{5285.8}{org}{PIF7\_SRX5454262(PIF7::PIF7-MYC (D108)\_ZT12\_27C)}
\hst{org}{5341.7}{5299.1,5299.1,5290.8,5307.1,5324.2,5324.2,5324.2,5315.8,5315.8,5307.1,5307.1,5299.1,5340,5340,5340,5340,5340,5332.1,5315.8,5324.2}
\trk{5345.8}{org}{RBR1\_SRX3531272(RBR1\_ChIP\_rep1)}
\hst{org}{5401.7}{5395.9,5391.3,5400.1,5391.3,5385.9,5391.3,5395.9,5385.9,5391.3,5375,5365,5350.8,5360,5375,5375,5375,5391.3,5365,5355,5365}
\trk{5405.9}{org}{RBR1\_SRX3531273(RBR1\_ChIP\_rep2)}
\hst{org}{5461.4}{5410.9,5417.2,5417.2,5417.2,5423,5435.1,5441,5453.9,5453.9,5459.7,5453.9,5435.1,5428.8,5441,5448,5435.1,5435.1,5435.1,5441,5448}
\trk{5465.5}{org}{SE\_ERX2858751(Arabidopsis Col-0 WT seedlings biorep1)}
\hst{org}{5521.4}{5470.6,5470.6,5470.6,5470.6,5470.6,5470.6,5470.6,5490.2,5490.2,5501,5510.2,5510.2,5510.2,5510.2,5520.2,5520.2,5520.2,5520.2,5520.2,5520.2}
\trk{5525.6}{org}{SE\_ERX2858752(Arabidopsis Col-0 WT seedlings biorep1)}
\dns{5531}{0,0,0,0,0,0,0,4,4,5,7,7,7,7,8,8,8,8,8,8}
\trk{5544.8}{org}{SE\_ERX2858753(Arabidopsis Col-0 WT seedlings biorep1)}
\hst{org}{5600.7}{5549.8,5564,5564,5578.2,5578.2,5584.8,5599,5583.2,5583.2,5596.9,5596.9,5596.9,5596.9,5596.9,5576.1,5564,5564,5564,5549.8,5578.2}
\trk{5604.8}{org}{SHL\_SRX3226098(SHL ChIPSeq-1)}
\dns{5609.9}{0,0,0,0,0,0,n,n,n,n,n,n,n,n,n,n,n,n,n,0}
\trk{5624}{org}{SHL\_SRX3226099(SHL ChIPSeq-2)}
\hst{org}{5678.7}{5629,5629,5629,5629,5629,5678.7,5678.7,5678.7,5678.7,5678.7,5678.7,5678.7,5678.7,5678.7,5678.7,5678.7,5678.7,5678.7,5678.7,5678.7}
\trk{5683.7}{org}{SMXL6\_SRX7187013(s678 SMXL6HA\_ChIPSeq\_Rep1)}
\dns{5689.1}{4,4,5,3,3,2,0,1,2,4,6,8,7,6,5,8,8,8,8,8}
\trk{5702.9}{org}{SMXL6\_SRX7187015(s678 SMXL6HA\_ChIPSeq\_Rep2)}
\hst{org}{5758.5}{5756.8,5756.8,5739.2,5725.8,5714.1,5725.8,5708.3,5720,5739.2,5720,5708.3,5708.3,5714.1,5708.3,5714.1,5714.1,5720,5714.1,5720,5720}
\trk{5763.1}{org}{SOB3\_SRX5001348(SOB3-GFP ChIP replicate 1)}
\dns{5768.1}{3,3,3,3,3,3,3,0,3,0,8,6,6,3,6,6,6,6,6,6}
\trk{5781.9}{org}{SOB3\_SRX5001349(SOB3-GFP ChIP replicate 2)}
\hst{org}{5837.6}{5817.1,5797,5797,5797,5806.2,5806.2,5817.1,5797,5797,5797,5806.2,5787.4,5797,5797,5817.1,5817.1,5797,5817.1,5825.9,5836.3}
\trk{5841.8}{org}{SOG1\_SRX3866936(IP\_SOG1-3xFLAG\_20min)}
\hst{org}{5897.4}{5896.2,5879.8,5896.2,5896.2,5896.2,5863.1,5871,5879.8,5879.8,5887.8,5871,5863.1,5887.8,5879.8,5879.8,5887.8,5879.8,5879.8,5847.2,5855.2}
\trk{5901.6}{org}{SOG1\_SRX3866937(IP\_SOG1-3xFLAG\_1h)}
\hst{org}{5957.7}{5937.2,5925.9,5925.9,5925.9,5925.9,5925.9,5925.9,5925.9,5925.9,5925.9,5925.9,5917.1,5917.1,5917.1,5907,5925.9,5925.9,5947.2,5955.6,5947.2}
\trk{5961.8}{org}{SPL7-SRX250135 (SRX250135: FLAG-SPL7 ChIP-seq)}
\hst{org}{6017.5}{6000,6000,6000,6000,6000,6000,6000,6000,5966.5,5966.5,6000,6000,6000,6015.8,6015.8,6015.8,6015.8,6015.8,6015.8,6015.8}
\trk{6021.7}{org}{SPT6L\_SRX5169086(SPT6L-GFP IP rep1)}
\dns{6026.7}{3,1,0,4,3,4,4,0,1,3,8,5,7,8,7,7,7,5,3,0}
\trk{6040.5}{org}{SPT6L\_SRX5169087(SPT6L-GFP IP rep2)}
\hst{org}{6096.6}{6089.9,6093.2,6094.9,6089.9,6089.9,6079,6071,6071,6087.8,6089.9,6079,6075.7,6073.6,6071,6071,6071,6071,6053.9,6056.8,6045.9}
\trk{6100.8}{org}{STZ\_SRX6460108(STZ\_AIR\_ChIPseq\_rep1)}
\dns{6106.2}{0,1,2,6,6,4,7,7,5,6,7,7,5,7,7,8,8,5,3,2}
\trk{6119.6}{org}{STZ\_SRX6460109(STZ\_AIR\_ChIPseq\_rep2)}
\hst{org}{6175.7}{6173.6,6166.9,6161.8,6157.2,6152.2,6153.9,6157.2,6150.1,6147.2,6142.2,6137.2,6132.1,6134.2,6130,6125,6127.1,6137.2,6134.2,6132.1,6147.2}
\trk{6179.8}{org}{STZ\_SRX6460110(STZ\_AIR\_ChIPseq\_rep3)}
\dns{6184.9}{6,8,8,8,8,8,7,6,6,5,5,6,6,5,5,5,4,5,1,0}
\trk{6198.7}{org}{STZ\_SRX6460111(STZ\_JA\_2hr\_ChIPseq\_rep1)}
\hst{org}{6254.7}{6217.1,6225.9,6235.1,6239.2,6235.1,6235.1,6212.9,6207,6207,6207,6253.1,6239.2,6239.2,6222.1,6207,6204.1,6217.1,6229.2,6235.1,6207}
\trk{6258.5}{org}{TCP4\_SRX4168241(mTCP4\_ChIP)}
\dns{6264}{7,7,7,7,8,8,8,8,8,6,7,5,3,3,5,1,1,1,0,0}
\trk{6277.7}{org}{TFL1\_ERX2826885(gTFL1-1xVenus\_biorep1)}
\hst{org}{6333.8}{6320,6307.9,6307.9,6307.9,6307.9,6320,6320,6320,6307.9,6332.1,6332.1,6332.1,6332.1,6320,6320,6294.9,6283.2,6283.2,6307.9,6307.9}
\trk{6337.6}{org}{TFL1\_ERX2826887(gTFL1-1xVenus\_biorep3)}
\hst{org}{6394}{6380.3,6384.4,6388.2,6384.4,6384.4,6391.6,6388.2,6380.3,6380.3,6376.1,6371.9,6371.9,6371.9,6364,6371.9,6364,6359.7,6343,6343,6347.6}
\end{tikzpicture}
\end{document}
